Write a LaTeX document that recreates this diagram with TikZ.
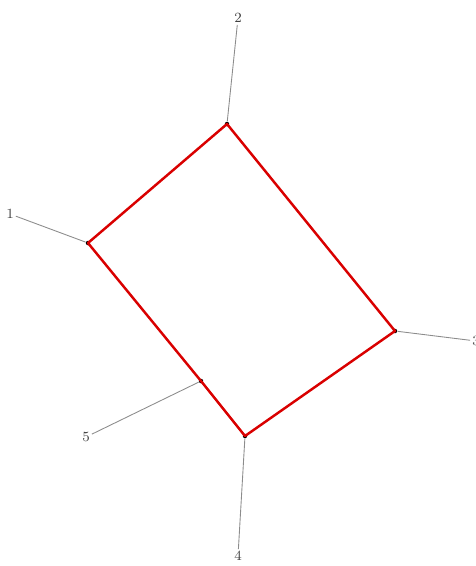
\documentclass[tikz,border=0pt]{standalone}
\usepackage{xcolor}
\usepackage{tikz}
\usetikzlibrary{positioning, calc}
\tikzset{
    vdot/.style={
        circle, fill=black, inner sep=0pt, minimum size=0.9mm,
    },
    lbl/.style={
        inner sep=1pt, font=\footnotesize, text=black!75,
    },
    ring/.style={draw=red!85!black, line width=1.4pt, line join=round},
    spoke/.style={draw=black!45, line width=0.5pt},
}

\begin{document}
\begin{tikzpicture}[x=0.02cm, y=-0.02cm]

    \useasboundingbox (0,0) rectangle (476,566);

    % vertices of the cycle
    \node[vdot] (v1) at (88,243) {};
    \node[vdot] (v2) at (227,124) {};
    \node[vdot] (v3) at (395,331) {};
    \node[vdot] (v4) at (245,436) {};
    \node[vdot] (v5) at (201,381) {};

    % outer labels
    \node[lbl] (l1) at (10,214) {1};
    \node[lbl] (l2) at (238,18) {2};
    \node[lbl] (l3) at (476,341) {3};
    \node[lbl] (l4) at (238,556) {4};
    \node[lbl] (l5) at (86,437) {5};

    \draw[ring] (v1.center) -- (v2.center) -- (v3.center) -- (v4.center)
        -- (v5.center) -- cycle;

    \draw[spoke] (l1) -- (v1);
    \draw[spoke] (l2) -- (v2);
    \draw[spoke] (l3) -- (v3);
    \draw[spoke] (l4) -- (v4);
    \draw[spoke] (l5) -- (v5);

\end{tikzpicture}
\end{document}
